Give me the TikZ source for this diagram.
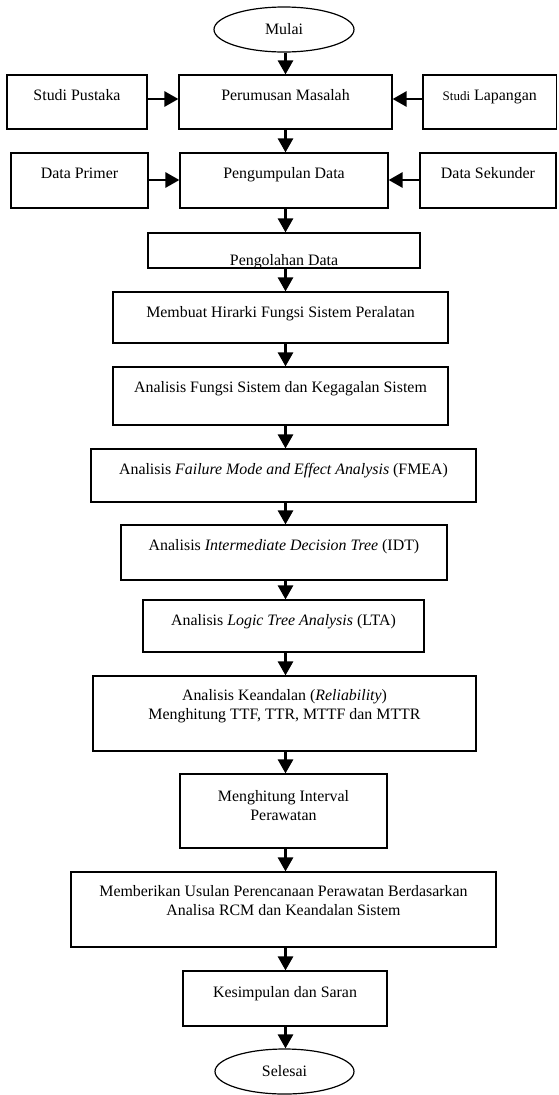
\documentclass[tikz,border=0pt]{standalone}
\usepackage{fontspec}
\setmainfont{Liberation Serif}
\usetikzlibrary{arrows.meta,shapes.geometric}
\newcommand\mainfs{\fontsize{15.9}{19}\selectfont}
\newcommand\smallfs{\fontsize{13}{15}\selectfont}
\begin{document}
\begin{tikzpicture}[x=1pt,y=-1pt,
  box/.style={draw=black, line width=1.2pt, inner sep=0pt, rectangle},
  oval/.style={draw=black, line width=1.2pt, ellipse, inner sep=0pt, font=\mainfs},
  txt/.style={inner sep=0pt, anchor=base, font=\mainfs},
  arr/.style={line width=2.8pt, -{Triangle[length=14pt,width=15pt]}}]
\useasboundingbox (0,0) rectangle (558,1095);
\coordinate (col) at (285.5,0);
\coordinate (row1) at (0,99);
\coordinate (row2) at (0,180);

% start
\node[oval, minimum width=140pt, minimum height=45pt] (mulai) at (284,29.5) {Mulai};

% row 1
\node[box, minimum width=140pt, minimum height=54pt] (sp) at (77,102) {};
\node[box, minimum width=213pt, minimum height=54pt] (pm) at (285.5,102) {};
\node[box, minimum width=133.5pt, minimum height=54pt] (sl) at (489.75,102) {};
\node[txt] (tsp) at ([yshift=-26pt]sp.north) {Studi Pustaka};
\node[txt] (tpm) at ([yshift=-26pt]pm.north) {Perumusan Masalah};
\node[txt] (tsl) at ([yshift=-26pt]sl.north) {{\smallfs Studi} Lapangan};

% row 2
\node[box, minimum width=137pt, minimum height=55pt] (dp) at (79.5,180.5) {};
\node[box, minimum width=208pt, minimum height=55pt] (pd) at (284,180.5) {};
\node[box, minimum width=136pt, minimum height=55pt] (ds) at (488,180.5) {};
\node[txt] (tdp) at ([yshift=-26pt]dp.north) {Data Primer};
\node[txt] (tpd) at ([yshift=-26pt]pd.north) {Pengumpulan Data};
\node[txt] (tds) at ([yshift=-26pt]ds.north) {Data Sekunder};

% pengolahan (text clipped at the bottom)
\begin{scope}
\clip (148,233) rectangle (420,268);
\node[txt] (tpl) at (284,265.5) {Pengolahan Data};
\end{scope}
\node[box, minimum width=272pt, minimum height=35pt] (pl) at (284,250.5) {};

% main column
\node[box, minimum width=335pt, minimum height=51pt] (mh) at (280.5,317.5) {};
\node[txt] (tmh) at ([yshift=-26pt]mh.north) {Membuat Hirarki Fungsi Sistem Peralatan};

\node[box, minimum width=335pt, minimum height=58pt] (af) at (280.5,396) {};
\node[txt] (taf) at ([yshift=-26pt]af.north) {Analisis Fungsi Sistem dan Kegagalan Sistem};

\node[box, minimum width=385pt, minimum height=53pt] (fm) at (283.5,475.5) {};
\node[txt] (tfm) at ([yshift=-26pt]fm.north) {Analisis \textit{Failure Mode and Effect Analysis} (FMEA)};

\node[box, minimum width=326pt, minimum height=55pt] (idt) at (284,552.5) {};
\node[txt] (tidt) at ([yshift=-26pt]idt.north) {Analisis \textit{Intermediate Decision Tree} (IDT)};

\node[box, minimum width=281pt, minimum height=52pt] (lta) at (283.5,626) {};
\node[txt] (tlta) at ([yshift=-26pt]lta.north) {Analisis \textit{Logic Tree Analysis} (LTA)};

\node[box, minimum width=383pt, minimum height=75pt] (kd) at (284.5,713.5) {};
\node[txt] (tkd) at ([yshift=-25pt]kd.north) {\begin{tabular}[t]{@{}c@{}}Analisis Keandalan (\textit{Reliability})\\Menghitung TTF, TTR, MTTF dan MTTR\end{tabular}};

\node[box, minimum width=207pt, minimum height=74pt] (mi) at (283.5,811) {};
\node[txt] (tmi) at ([yshift=-28pt]mi.north) {\begin{tabular}[t]{@{}c@{}}Menghitung Interval\\Perawatan\end{tabular}};

\node[box, minimum width=425pt, minimum height=75pt] (mu) at (283.5,909.5) {};
\node[txt] (tmu) at ([yshift=-25pt]mu.north) {\begin{tabular}[t]{@{}c@{}}Memberikan Usulan Perencanaan Perawatan Berdasarkan\\Analisa RCM dan Keandalan Sistem\end{tabular}};

\node[box, minimum width=204pt, minimum height=55pt] (ks) at (285,998.5) {};
\node[txt] (tks) at ([yshift=-27pt]ks.north) {Kesimpulan dan Saran};

\node[oval, minimum width=139pt, minimum height=45pt] (selesai) at (284.5,1071.5) {Selesai};

% connectors
\draw[arr] (mulai.south -| col) -- (pm.north -| col);
\draw[arr] (sp.east |- row1) -- (pm.west |- row1);
\draw[arr] (sl.west |- row1) -- (pm.east |- row1);
\draw[arr] (pm.south -| col) -- (pd.north -| col);
\draw[arr] (dp.east |- row2) -- (pd.west |- row2);
\draw[arr] (ds.west |- row2) -- (pd.east |- row2);
\draw[arr] (pd.south -| col) -- (pl.north -| col);
\draw[arr] (pl.south -| col) -- (mh.north -| col);
\draw[arr] (mh.south -| col) -- (af.north -| col);
\draw[arr] (af.south -| col) -- (fm.north -| col);
\draw[arr] (fm.south -| col) -- (idt.north -| col);
\draw[arr] (idt.south -| col) -- (lta.north -| col);
\draw[arr] (lta.south -| col) -- (kd.north -| col);
\draw[arr] (kd.south -| col) -- (mi.north -| col);
\draw[arr] (mi.south -| col) -- (mu.north -| col);
\draw[arr] (mu.south -| col) -- (ks.north -| col);
\draw[arr] (ks.south -| col) -- (selesai.north -| col);
\end{tikzpicture}
\end{document}
